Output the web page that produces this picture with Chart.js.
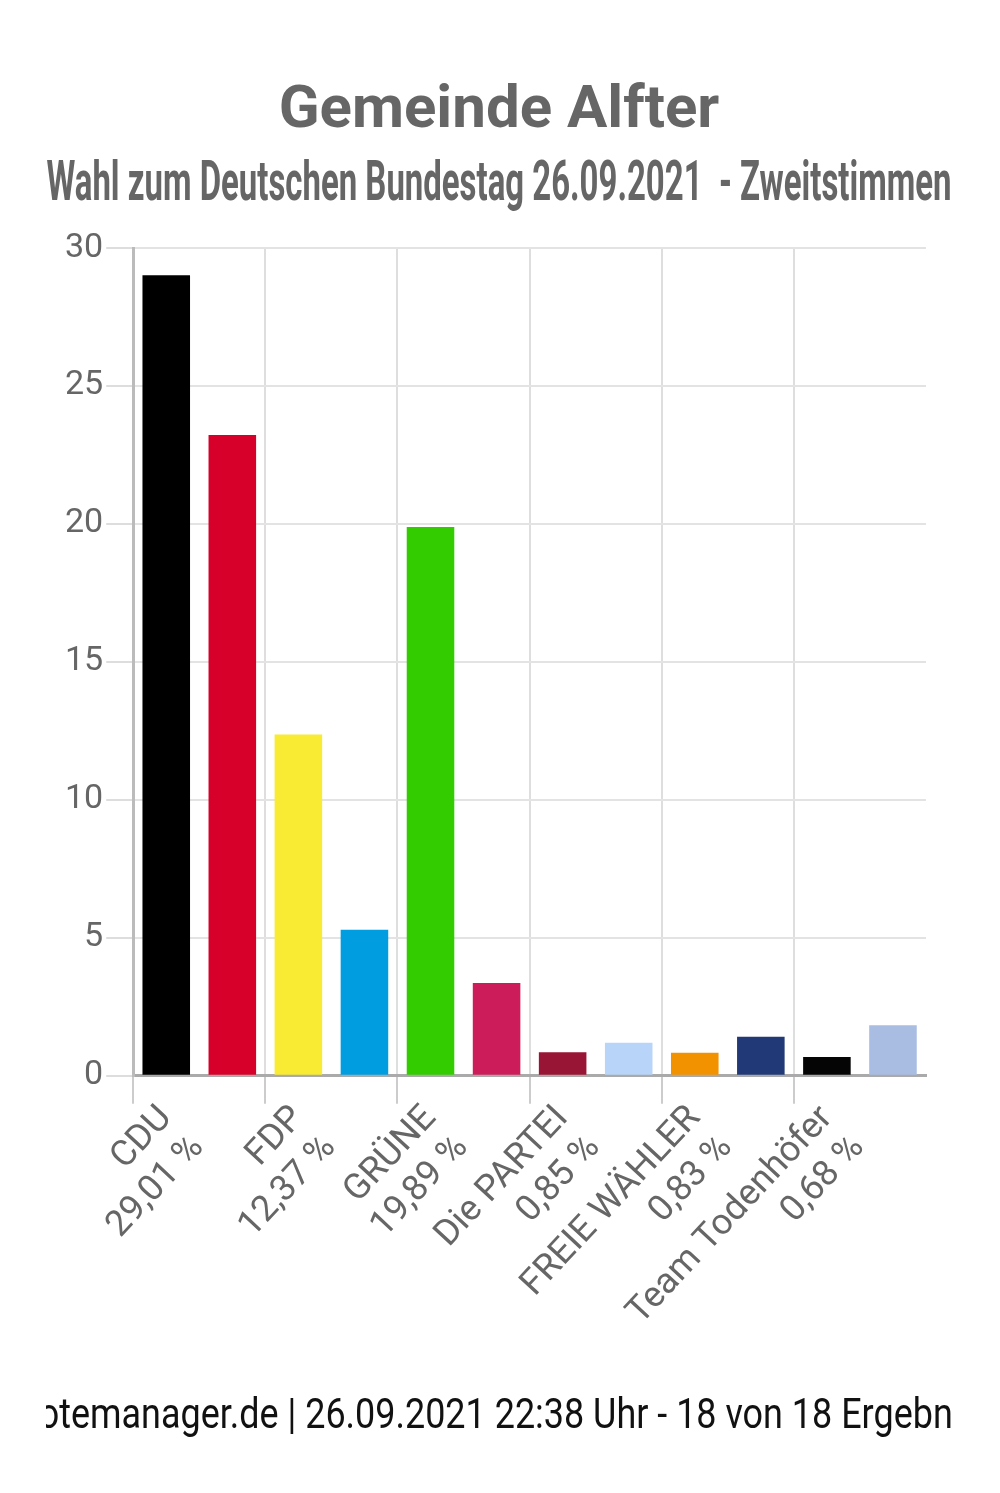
<!DOCTYPE html>
<html>
<head>
<meta charset="utf-8">
<script src="https://cdn.jsdelivr.net/npm/chart.js@4.4.1/dist/chart.umd.min.js"></script>
<style>
  html, body { margin: 0; padding: 0; background: #fff; }
  #wrap { width: 1000px; height: 1493px; position: relative; }
</style>
</head>
<body>
<div id="wrap"><canvas id="chart"></canvas></div>
<script>
const PARTIES = ['CDU', 'SPD', 'FDP', 'AfD', 'GRÜNE', 'DIE LINKE', 'Die PARTEI',
                 'Tierschutzpartei', 'FREIE WÄHLER', 'Volt', 'Team Todenhöfer', 'Sonstige'];
const SHARES  = [29.01, 23.22, 12.37, 5.29, 19.89, 3.36, 0.85, 1.19, 0.83, 1.41, 0.68, 1.83];
const COLOURS = ['#000000', '#d7002a', '#f9eb33', '#009ee0', '#33cc00', '#cd1c5a',
                 '#991535', '#b8d5f9', '#f39200', '#213a77', '#050505', '#a9bde3'];
const Y_TICKS = [0, 5, 10, 15, 20, 25, 30];

const TITLE    = 'Gemeinde Alfter';
const SUBTITLE = 'Wahl zum Deutschen Bundestag 26.09.2021  - Zweitstimmen';
const FOOTER_CUT  = 'v';
const FOOTER_SHOWN = 'otemanager.de | 26.09.2021 22:38 Uhr - 18 von 18 Ergebn';
const FOOTER_REST = 'issen';

const GREY = '#666666';

// party name on the first line, share on the second
const labels = PARTIES.map((p, i) => [p, SHARES[i].toFixed(2).replace('.', ',') + ' %']);

function squeezeText(ctx, text, x, y, width, font, colour)
{
    ctx.save();
    ctx.font = font;
    const s = Math.min(1, width / ctx.measureText(text).width);
    ctx.translate(x, y);
    ctx.scale(s, 1);
    ctx.fillStyle = colour;
    ctx.textAlign = 'center';
    ctx.textBaseline = 'alphabetic';
    ctx.fillText(text, 0, 0);
    ctx.restore();
}

const headerPlugin = {
    id: 'header',
    afterDraw(chart)
    {
        const ctx = chart.ctx;

        ctx.save();
        ctx.font = 'bold 60px Roboto';
        ctx.fillStyle = GREY;
        ctx.textAlign = 'center';
        ctx.fillText(TITLE, 499, 127);
        ctx.restore();

        squeezeText(ctx, SUBTITLE, 499, 200, 905, 'bold 56px Roboto', GREY);

        // footer: the page cuts it off on both sides
        ctx.save();
        ctx.font = '400 42px Roboto';
        const shownW = ctx.measureText(FOOTER_SHOWN).width;
        const s = 914 / shownW;
        const cutW = ctx.measureText(FOOTER_CUT).width * s;
        ctx.beginPath();
        ctx.rect(46, 1380, 909, 70);
        ctx.clip();
        ctx.translate(39 - cutW, 1428);
        ctx.scale(s, 1);
        ctx.fillStyle = '#111111';
        ctx.textAlign = 'left';
        ctx.fillText(FOOTER_CUT + FOOTER_SHOWN + FOOTER_REST, 0, 0);
        ctx.restore();
    }
};

new Chart(document.getElementById('chart'), {
    type: 'bar',
    data: {
        labels: labels,
        datasets: [{
            data: SHARES,
            backgroundColor: COLOURS,
            borderWidth: 0,
            categoryPercentage: 0.8,
            barPercentage: 0.9
        }]
    },
    options: {
        responsive: true,
        maintainAspectRatio: false,
        animation: false,
        layout: { padding: { top: 248, left: 62, right: 74, bottom: 136 } },
        plugins: {
            legend: { display: false },
            tooltip: { enabled: false }
        },
        scales: {
            x: {
                grid: {
                    offset: true,
                    lineWidth: 2,
                    color: c => (c.index % 2 === 0 && c.index < PARTIES.length) ? '#dedede' : 'rgba(0,0,0,0)',
                    tickColor: c => (c.index % 2 === 0 && c.index < PARTIES.length) ? '#cccccc' : 'rgba(0,0,0,0)',
                    tickLength: 28
                },
                border: { color: '#aaaaaa', width: 3 },
                ticks: {
                    autoSkip: false,
                    minRotation: 47,
                    maxRotation: 47,
                    padding: -6,
                    color: GREY,
                    font: { family: 'Roboto', size: 36 },
                    callback: function(value, index) {
                        return index % 2 === 0 ? this.getLabelForValue(value) : '';
                    }
                }
            },
            y: {
                min: 0,
                max: 30,
                afterBuildTicks: axis => { axis.ticks = Y_TICKS.map(v => ({ value: v })); },
                grid: { color: '#e3e3e3', lineWidth: 2, tickLength: 27, tickColor: '#dddddd' },
                border: { color: '#bbbbbb', width: 3 },
                ticks: {
                    padding: 3,
                    color: GREY,
                    font: { family: 'Roboto', size: 34 }
                }
            }
        }
    },
    plugins: [headerPlugin]
});
</script>
</body>
</html>
